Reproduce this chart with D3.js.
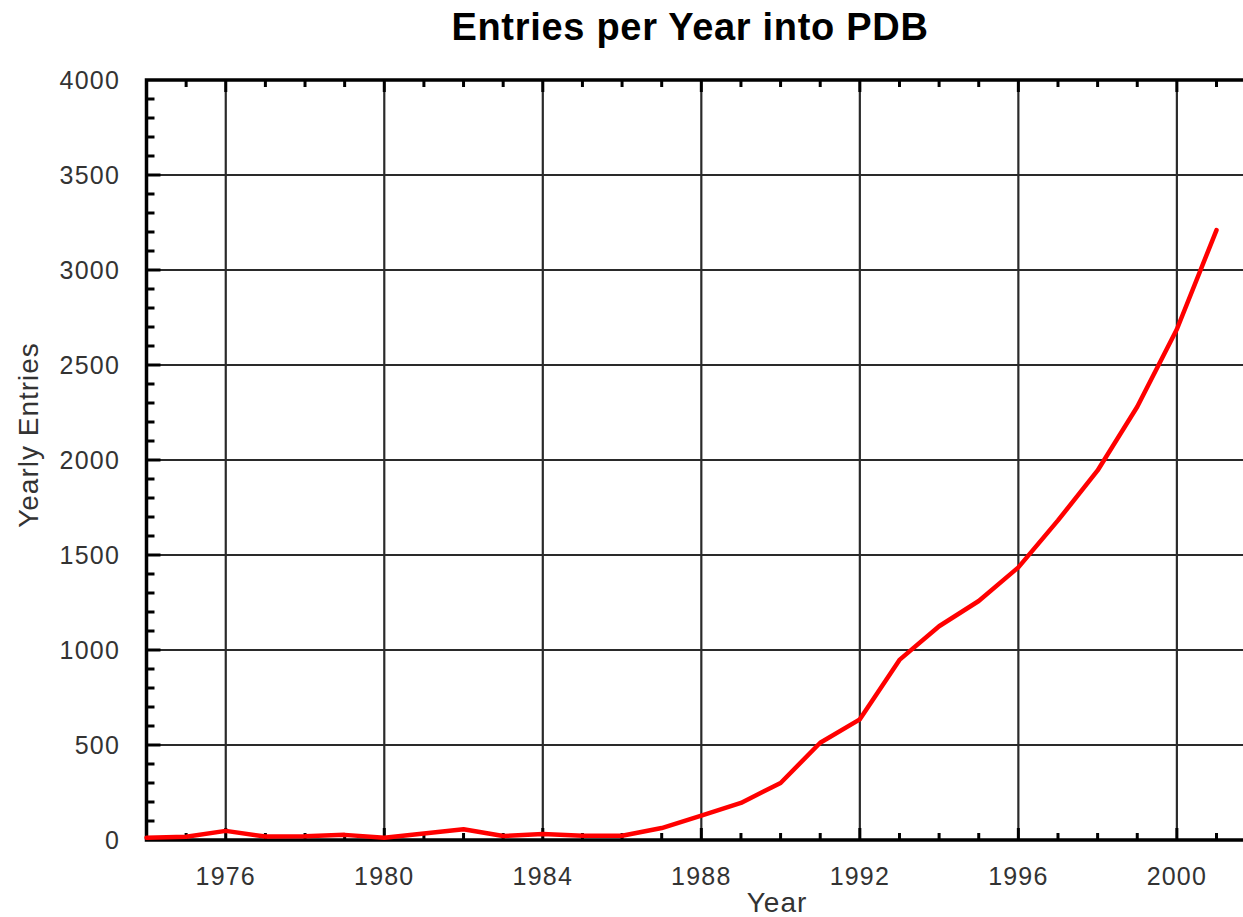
<!DOCTYPE html>
<html>
<head>
<meta charset="utf-8">
<script src="https://cdn.jsdelivr.net/npm/d3@7"></script>
<style>
  html, body { margin: 0; padding: 0; background: #fff; overflow: hidden; }
  svg { display: block; font-family: "Liberation Sans", Arial, Helvetica, sans-serif; }
</style>
</head>
<body>
<svg id="chart" width="1243" height="917"></svg>
<script>
const years = [1974,1975,1976,1977,1978,1979,1980,1981,1982,1983,1984,1985,1986,1987,
               1988,1989,1990,1991,1992,1993,1994,1995,1996,1997,1998,1999,2000,2001];
const entries = [12,17,48,18,20,27,12,34,57,21,31,22,22,63,
                 128,195,300,512,635,948,1125,1258,1435,1682,1945,2280,2688,3210];
const xMajorTicks = [1976,1980,1984,1988,1992,1996,2000];
const yMajorTicks = [0,500,1000,1500,2000,2500,3000,3500,4000];
const titleText = "Entries per Year into PDB";
const xLabel = "Year";
const yLabel = "Yearly Entries";

const svg = d3.select("#chart");
const x = d3.scaleLinear().domain([1974, 2002]).range([146.5, 146.5 + 28 * 39.63]);
const y = d3.scaleLinear().domain([0, 4000]).range([840, 80]);

const pLeft = x(1974), pRight = x(2002), pTop = y(4000), pBottom = y(0);

// gridlines
const grid = svg.append("g").attr("stroke", "#2a2a2a").attr("stroke-width", 2.2);
grid.selectAll("line.v").data(xMajorTicks).join("line")
  .attr("x1", d => x(d)).attr("x2", d => x(d)).attr("y1", pTop).attr("y2", pBottom);
grid.selectAll("line.h").data(yMajorTicks.filter(d => d > 0 && d < 4000)).join("line")
  .attr("x1", pLeft).attr("x2", pRight).attr("y1", d => y(d)).attr("y2", d => y(d));

// minor / major ticks (inward)
const minorX = d3.range(1975, 2002);
const minorY = d3.range(100, 4000, 100);
const ticks = svg.append("g").attr("stroke", "#000").attr("stroke-width", 3);
ticks.selectAll("line.bx").data(minorX).join("line")
  .attr("x1", d => x(d)).attr("x2", d => x(d))
  .attr("y1", pBottom).attr("y2", d => pBottom - (d % 4 === 0 ? 12 : 7));
ticks.selectAll("line.tx").data(minorX).join("line")
  .attr("x1", d => x(d)).attr("x2", d => x(d))
  .attr("y1", pTop).attr("y2", d => pTop + (d % 4 === 0 ? 12 : 7));
ticks.selectAll("line.ly").data(minorY).join("line")
  .attr("x1", pLeft).attr("x2", d => pLeft + (d % 500 === 0 ? 14 : 8))
  .attr("y1", d => y(d)).attr("y2", d => y(d));

// frame
svg.append("rect").attr("x", pLeft).attr("y", pTop)
  .attr("width", pRight - pLeft).attr("height", pBottom - pTop)
  .attr("fill", "none").attr("stroke", "#000").attr("stroke-width", 3.5);

// line
const line = d3.line().x((d, i) => x(years[i])).y(d => y(d));
svg.append("path").datum(entries)
  .attr("d", line)
  .attr("fill", "none").attr("stroke", "#ff0000").attr("stroke-width", 4.5)
  .attr("stroke-linejoin", "round").attr("stroke-linecap", "round");

// tick labels
svg.append("g").selectAll("text").data(xMajorTicks).join("text")
  .attr("x", d => x(d)).attr("y", 885)
  .attr("text-anchor", "middle").attr("font-size", 25).attr("letter-spacing", 1.2)
  .attr("fill", "#333")
  .text(d => d);
svg.append("g").selectAll("text").data(yMajorTicks).join("text")
  .attr("x", 120).attr("y", d => y(d) + 9)
  .attr("text-anchor", "end").attr("font-size", 25).attr("letter-spacing", 1.2)
  .attr("fill", "#333")
  .text(d => d);

// titles
svg.append("text").attr("x", 690).attr("y", 40)
  .attr("text-anchor", "middle").attr("font-size", 38).attr("font-weight", "bold")
  .attr("letter-spacing", 0.7)
  .attr("fill", "#000").text(titleText);
svg.append("text").attr("x", 777).attr("y", 912)
  .attr("text-anchor", "middle").attr("font-size", 28).attr("letter-spacing", 1)
  .attr("fill", "#333").text(xLabel);
svg.append("text").attr("transform", "translate(38,435) rotate(-90)")
  .attr("text-anchor", "middle").attr("font-size", 28).attr("letter-spacing", 1)
  .attr("fill", "#333").text(yLabel);
</script>
</body>
</html>
